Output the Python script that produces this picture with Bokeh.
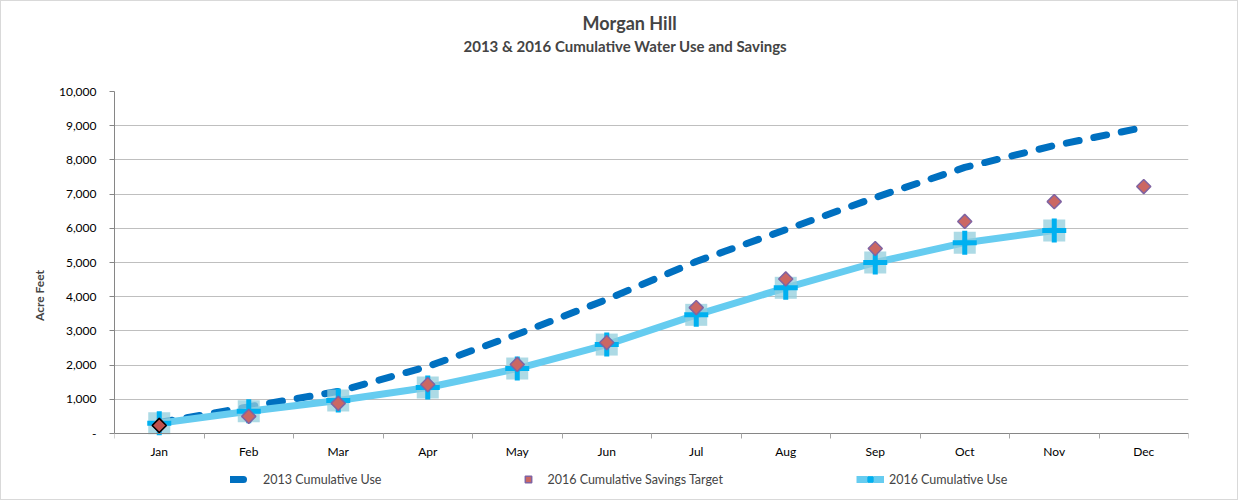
import math
from bokeh.plotting import figure
from bokeh.models import (Legend, LegendItem, Title, FixedTicker, NumeralTickFormatter,
                          ColumnDataSource, Range1d)
from bokeh.embed import file_html
from bokeh.resources import INLINE

months = ["Jan", "Feb", "Mar", "Apr", "May", "Jun", "Jul", "Aug", "Sep", "Oct", "Nov", "Dec"]
use_2013 = [320, 780, 1230, 1960, 2900, 3920, 5030, 5960, 6900, 7780, 8420, 8950]
target_2016 = [235, 500, 880, 1430, 2020, 2660, 3680, 4520, 5410, 6200, 6780, 7220]
use_2016 = [300, 650, 965, 1345, 1900, 2600, 3470, 4260, 5000, 5580, 5935]

FONT = "Lato"
xpos = [i + 0.5 for i in range(len(months))]

# layout: the plotting area (0..10000) is 342px tall; the frame is extended below it
# so that the legend can sit inside the frame under the x axis
Y_MAX = 10000
PLOT_H = 342
FRAME_H = 408
Y_MIN = -Y_MAX * (FRAME_H - PLOT_H) / PLOT_H

src13 = ColumnDataSource(dict(x=xpos, y=use_2013))
srcT = ColumnDataSource(dict(x=xpos, y=target_2016))
src16 = ColumnDataSource(dict(x=xpos[:len(use_2016)], y=use_2016))
srcJan = ColumnDataSource(dict(x=xpos[:1], y=target_2016[:1]))

p = figure(frame_width=1074, frame_height=FRAME_H, output_backend="svg", toolbar_location=None,
           x_range=Range1d(0, 12), y_range=Range1d(Y_MIN, Y_MAX),
           min_border_left=113, min_border_right=49, min_border_top=90, min_border_bottom=0)
p.styles = {"border": "1px solid #D9D9D9", "box-sizing": "border-box"}
p.outline_line_color = None
p.background_fill_color = "white"
p.border_fill_color = "white"

# grid
p.xgrid.grid_line_color = None
p.ygrid.grid_line_color = "#BFBFBF"
p.ygrid.grid_line_width = 1
p.yaxis.ticker = FixedTicker(ticks=list(range(0, Y_MAX + 1, 1000)))

# x axis (drawn at y = 0)
p.xaxis.fixed_location = 0
p.xaxis.ticker = FixedTicker(ticks=xpos, minor_ticks=list(range(0, 13)))
p.xaxis.major_label_overrides = {x: m for x, m in zip(xpos, months)}
p.xaxis.major_tick_out = 0
p.xaxis.major_tick_in = 0
p.xaxis.minor_tick_out = 5
p.xaxis.minor_tick_in = 0
p.xaxis.minor_tick_line_color = "#A6A6A6"
p.xaxis.axis_line_color = "#868686"
p.xaxis.major_label_standoff = 5
p.xaxis.major_label_text_font = FONT
p.xaxis.major_label_text_font_size = "12px"
p.xaxis.major_label_text_color = "#000000"

# y axis
p.yaxis.bounds = (0, Y_MAX)
p.yaxis.formatter = NumeralTickFormatter(format="0,0")
p.yaxis.major_label_overrides = {0: "-"}
p.yaxis.minor_tick_line_color = None
p.yaxis.major_tick_out = 5
p.yaxis.major_tick_in = 0
p.yaxis.major_tick_line_color = "#868686"
p.yaxis.axis_line_color = "#868686"
p.yaxis.major_label_standoff = 13
p.yaxis.major_label_text_font = FONT
p.yaxis.major_label_text_font_size = "12px"
p.yaxis.major_label_text_color = "#000000"
p.yaxis.axis_label = "Acre Feet"
p.yaxis.axis_label_text_font = FONT
p.yaxis.axis_label_text_font_size = "12px"
p.yaxis.axis_label_text_font_style = "bold"
p.yaxis.axis_label_standoff = 9

# series
l13 = p.line("x", "y", source=src13, line_color="#0070C0", line_width=7,
             line_dash="13 15", line_cap="round")
l16 = p.line("x", "y", source=src16, line_color="#66CCF0", line_width=7)
sq16 = p.scatter("x", "y", source=src16, marker="square", size=22,
                 fill_color="#92CDDC", fill_alpha=0.75, line_color=None)
cr16 = p.scatter("x", "y", source=src16, marker="cross", size=24,
                 line_color="#00B0F0", line_width=5)
dT = p.scatter("x", "y", source=srcT, marker="square", size=10, angle=math.pi / 4,
               fill_color="#CB6763", line_color="#8064A2", line_width=1.5)
p.scatter("x", "y", source=srcJan, marker="square", size=10, angle=math.pi / 4,
          fill_color="#C0504D", line_color="#000000", line_width=1.5)

# spacer title (blank) to push the titles upward
p.add_layout(Title(text=" ", text_font_size="1px", standoff=33), "above")

# titles
p.add_layout(Title(text="2013 & 2016 Cumulative Water Use and Savings", align="left",
                   text_font=FONT, text_font_size="15px", text_font_style="bold",
                   standoff=2, offset=349), "above")
p.add_layout(Title(text="Morgan Hill", align="left", text_font=FONT,
                   text_font_size="18px", text_font_style="bold", standoff=0, offset=468), "above")

# legend (inside the extended frame, below the x axis)
legend = Legend(items=[
    LegendItem(label="2013 Cumulative Use", renderers=[l13]),
    LegendItem(label="2016 Cumulative Savings Target", renderers=[dT]),
    LegendItem(label="2016 Cumulative Use", renderers=[l16, sq16, cr16]),
], location=(116, 12), orientation="horizontal", padding=0, margin=0, spacing=133,
    glyph_width=28, glyph_height=16, label_height=16, label_standoff=5,
    label_text_font=FONT, label_text_font_size="12.5px",
    background_fill_alpha=0, border_line_alpha=0)
p.add_layout(legend)

open("out.html", "w").write(file_html(p, INLINE))
